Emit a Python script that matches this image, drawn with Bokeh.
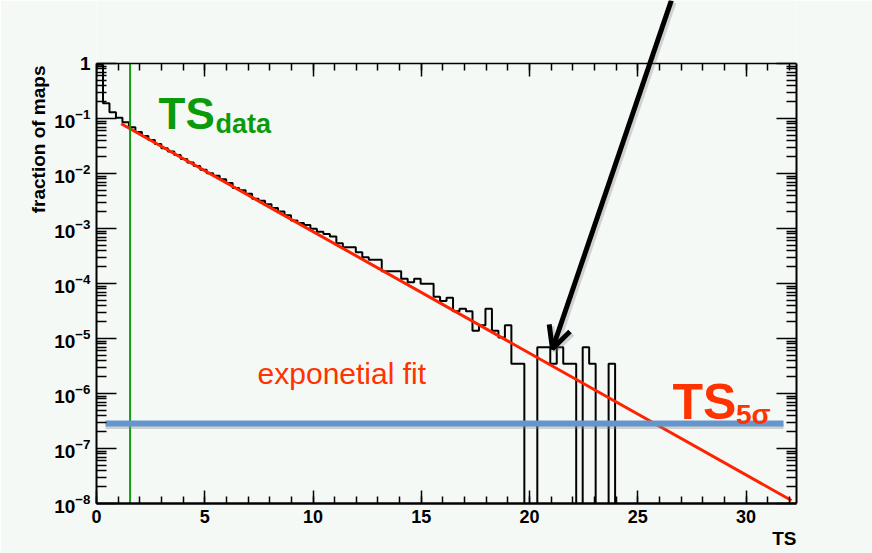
import numpy as np
from bokeh.plotting import figure
from bokeh.models import (FixedTicker, LogAxis, LinearAxis, LogTickFormatter, Label, Title,
                          Arrow, OpenHead, Range1d, CustomJSTickFormatter)
from bokeh.embed import file_html
from bokeh.resources import INLINE

# ---------------- data ----------------
bin_width = 0.2994
hist_frac = [
    0.95, 0.19, 0.130, 0.103, 0.0857, 0.0692, 0.0569, 0.0481, 0.0407, 0.0344,
    0.0289, 0.0251, 0.0216, 0.0184, 0.0159, 0.01374, 0.01175, 0.01012, 0.00912, 0.00785,
    0.00673, 0.00547, 0.00497, 0.00427, 0.00347, 0.00321, 0.00276, 0.00237, 0.00203, 0.00175,
    0.00140, 0.00126, 0.00116, 0.000993, 0.000871, 0.000794, 0.000716, 0.000541, 0.000457, 0.000457,
    0.000371, 0.000301, 0.000270, 0.000270, 0.000167, 0.000167, 0.000167, 0.0001216, 0.0001057, 0.0001216,
    0.0000989, 0.0000989, 0.0000575, 0.0000479, 0.0000550, 3.12e-5, 3.47e-5, 3.12e-5, 1.39e-5, 1.74e-5,
    3.47e-5, 1.39e-5, 1.04e-5, 1.74e-5, 3.47e-6, 3.47e-6, 0.0, 0.0, 6.94e-6, 6.94e-6,
    3.47e-6, 6.94e-6, 3.47e-6, 3.47e-6, 0.0, 6.94e-6, 3.47e-6, 0.0, 0.0, 3.47e-6,
] + [0.0] * 28

fit_x = [1.14, 32.10]
fit_y = [0.0802, 1.135e-8]

ts_data = 1.55
five_sigma_level = 2.85e-7
five_sigma_x = [0.42, 31.73]

x_lo, x_hi = 0.0, 32.33
y_lo, y_hi = 1e-8, 1.0          # plotted axis range
x_major = [0, 5, 10, 15, 20, 25, 30]
x_minor = list(range(0, 33))
y_major = [1e-8, 1e-7, 1e-6, 1e-5, 1e-4, 1e-3, 1e-2, 1e-1, 1.0]
y_minor = [m * 10.0 ** e for e in range(-8, 0) for m in range(2, 10)]

arrow_start = (26.55, 14.0)
arrow_end = (21.06, 6.5e-6)

# ---------------- styling ----------------
BG = "#f5f9f6"
FONT = "Liberation Sans"
RED = "#ff3300"
GREEN = "#0a9a0a"

# the frame reaches the top of the canvas so that the arrow can leave the axes box;
# the axes themselves are bounded to [y_lo, y_hi]
y_top = y_hi * 10 ** (63 / 55.0)

p = figure(width=872, height=553, output_backend="svg", toolbar_location=None,
           x_range=Range1d(x_lo, x_hi), y_range=Range1d(y_lo, y_top), y_axis_type="log",
           min_border_left=96, min_border_right=76, min_border_top=0, min_border_bottom=50,
           background_fill_color=BG, border_fill_color=BG)
p.grid.visible = False
p.outline_line_color = None

# bottom axis
xa = p.xaxis[0]
xa.ticker = FixedTicker(ticks=x_major, minor_ticks=x_minor)
xa.major_tick_in = 13
xa.major_tick_out = 0
xa.minor_tick_in = 7
xa.minor_tick_out = 0
xa.axis_line_width = 2.5
xa.major_tick_line_width = 1.5
xa.minor_tick_line_width = 1.5
xa.major_label_text_font = FONT
xa.major_label_text_font_style = "bold"
xa.major_label_text_font_size = "18px"
xa.major_label_text_color = "black"
xa.major_label_standoff = 6

# left axis
ya = p.yaxis[0]
ya.ticker = FixedTicker(ticks=y_major, minor_ticks=y_minor)
ya.formatter = LogTickFormatter()
ya.major_label_overrides = {1: "1"}
ya.bounds = (y_lo, y_hi)
ya.major_tick_in = 20
ya.major_tick_out = 0
ya.minor_tick_in = 10
ya.minor_tick_out = 0
ya.axis_line_width = 2
ya.major_tick_line_width = 1.5
ya.minor_tick_line_width = 1.5
ya.major_label_text_font = FONT
ya.major_label_text_font_style = "bold"
ya.major_label_text_font_size = "19px"
ya.major_label_text_color = "black"
ya.major_label_standoff = 6

empty = CustomJSTickFormatter(code="return ''")
# top axis drawn at y = y_hi (top of the axes box)
top = LinearAxis(ticker=FixedTicker(ticks=x_major, minor_ticks=x_minor), formatter=empty,
                 fixed_location=y_hi,
                 major_tick_in=13, major_tick_out=0, minor_tick_in=7, minor_tick_out=0,
                 axis_line_width=1.5, major_tick_line_width=1.5, minor_tick_line_width=1.5,
                 major_label_standoff=0, major_label_text_font_size="0px")
p.add_layout(top, "above")
right = LogAxis(ticker=FixedTicker(ticks=y_major, minor_ticks=y_minor), formatter=empty,
                bounds=(y_lo, y_hi),
                major_tick_in=20, major_tick_out=0, minor_tick_in=10, minor_tick_out=0,
                axis_line_width=2, major_tick_line_width=1.5, minor_tick_line_width=1.5,
                major_label_standoff=0, major_label_text_font_size="0px")
p.add_layout(right, "right")

# axis titles (ROOT style: at the end of each axis)
p.add_layout(Title(text="TS", align="right", text_font=FONT, text_font_style="bold",
                   text_font_size="19px", text_color="black", standoff=0), "below")
p.add_layout(Title(text="fraction of maps", align="right", text_font=FONT,
                   text_font_style="bold", text_font_size="19px", text_color="black",
                   standoff=6, offset=65), "left")

# histogram outline
edges = [k * bin_width for k in range(len(hist_frac) + 1)]
floor = 1e-10
hy = [v if v > 0 else floor for v in hist_frac]
hy = hy + [hy[-1]]
p.step(edges, hy, mode="after", line_color="black", line_width=2)

# exponential fit
p.line(fit_x, fit_y, line_color="#ff2200", line_width=3)

# TS data vertical line (spans the axes box)
p.line([ts_data, ts_data], [y_lo, y_hi], line_color="#12a012", line_width=2)

# 5 sigma level with soft shadow
shadow_y = [five_sigma_level * 10 ** (-3 / 55.0)] * 2
p.line(five_sigma_x, shadow_y, line_color="#888888", line_alpha=0.35, line_width=5)
p.line(five_sigma_x, [five_sigma_level] * 2, line_color="#6496cd", line_width=6)

# arrow with soft shadow
sdx = 2.0 / 21.64
sfy = 10 ** (-2.0 / 55.0)
p.add_layout(Arrow(x_start=arrow_start[0] + sdx, y_start=arrow_start[1] * sfy,
                   x_end=arrow_end[0] + sdx, y_end=arrow_end[1] * sfy,
                   line_color="#777777", line_alpha=0.3, line_width=6,
                   end=OpenHead(size=22, line_width=6, line_color="#777777", line_alpha=0.3)))
p.add_layout(Arrow(x_start=arrow_start[0], y_start=arrow_start[1],
                   x_end=arrow_end[0], y_end=arrow_end[1],
                   line_color="black", line_width=5,
                   end=OpenHead(size=22, line_width=5, line_color="black")))

# texts inside the axes box
def lab(x, y, text, size, color, style="bold"):
    p.add_layout(Label(x=x, y=y, text=text, text_font=FONT, text_font_size=size,
                       text_font_style=style, text_color=color, text_align="left",
                       text_baseline="alphabetic"))

lab(2.865, 0.125, "TS", "44px", GREEN)
lab(5.50, 0.0811, "data", "27px", GREEN)
lab(7.44, 2.28e-6, "exponetial fit", "30px", RED, style="normal")
lab(26.60, 6.95e-7, "TS", "50px", RED)
lab(29.53, 4.17e-7, "5σ", "28px", RED)

open("out.html", "w").write(file_html(p, INLINE))
